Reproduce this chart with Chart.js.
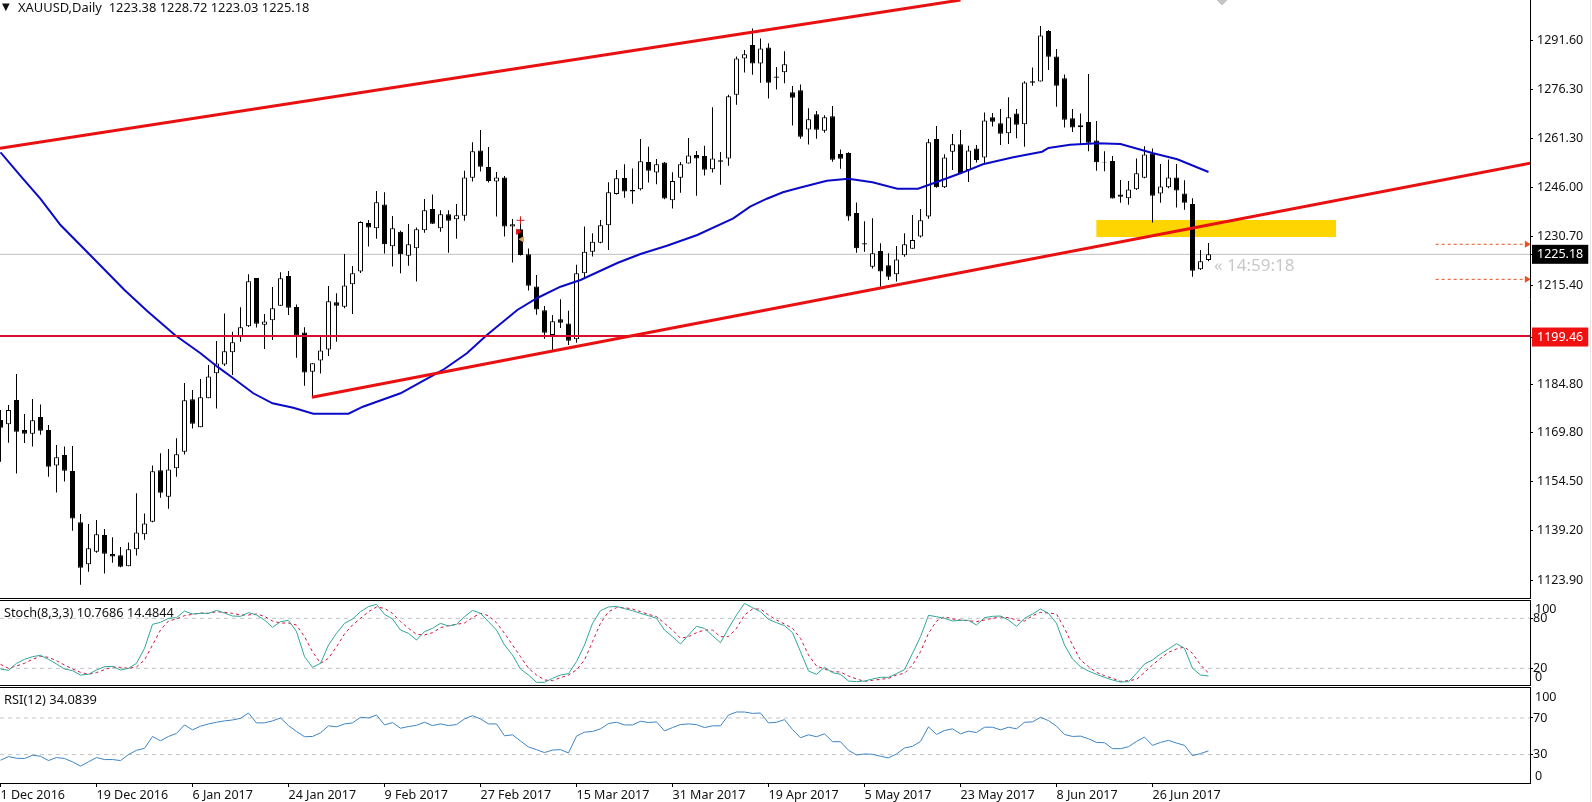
<!DOCTYPE html>
<html>
<head>
<meta charset="utf-8">
<title>XAUUSD Daily</title>
<script src="https://cdn.jsdelivr.net/npm/chart.js@4"></script>
<style>
  html, body { margin: 0; background: #fff; overflow: hidden; }
  #page { position: relative; width: 1592px; height: 802px; overflow: hidden; }
  canvas { position: absolute; left: 0; }
  .rule { position: absolute; left: 0; width: 1531px; height: 1px; background: #000; }
  .edge { position: absolute; left: 1590px; top: 0; width: 1px; height: 802px; background: #e6e6e6; }
  .txt { position: absolute; font: 12.5px "Noto Sans", sans-serif; color: #111; white-space: pre; line-height: 14px; }
</style>
</head>
<body>
<div id="page">
  <canvas id="pane-price" width="1592" height="598" style="top:0"></canvas>
  <canvas id="pane-stoch" width="1592" height="84" style="top:601px"></canvas>
  <canvas id="pane-rsi" width="1592" height="114" style="top:688px"></canvas>
  <div class="rule" style="top:598px"></div>
  <div class="rule" style="top:600px"></div>
  <div class="rule" style="top:685px"></div>
  <div class="rule" style="top:687px"></div>
  <div class="edge"></div>
</div>
<script>
// Daily candles, one entry per bar
const opens = [
  1173.65,1172.3,1179.9,1170.55,1169.4,1174.6,1170.55,1159.55,1162.8,1157.8,1141.85,1128.8,1132.7,1137.9,1132,1131.6,
  1128.15,1133.45,1138.1,1142.05,1158,1149.8,1158.65,1163.8,1180.1,1171.4,1180.4,1188.2,1190.9,1194.7,1199.4,1202.8,
  1217.8,1203.3,1204.65,1209.2,1218.4,1208.8,1200.9,1188.7,1192.2,1195.6,1210.25,1208.9,1215.85,1219.8,1234.9,1233.26,
  1240.7,1227.66,1232.2,1224.76,1227.05,1232.64,1239.3,1233.3,1237.6,1236.1,1237.2,1249,1257.5,1252.3,1247.8,1249.1,
  1233.8,1232.95,1225.2,1215.2,1207.8,1200.1,1204.97,1203.7,1198.75,1219.3,1226,1228.8,1234.2,1243.9,1248.9,1245.2,
  1245.4,1253.9,1250.6,1253.7,1242,1249,1253.4,1256.06,1255.75,1251.6,1254.4,1255,1274.8,1286.1,1290.3,1284.5,
  1289.5,1280.5,1281.8,1275.55,1276.2,1264,1268.7,1263.6,1268.1,1256.4,1256.7,1238,1228.6,1221.3,1226.2,1221.75,
  1218.95,1224.9,1226.9,1230.7,1236.9,1261,1246,1257.1,1259.4,1251.4,1258.1,1255.3,1267.8,1265.9,1262.8,1269,
  1265.6,1279,1278.9,1294.6,1286.7,1279.9,1267.5,1264.7,1266.3,1260.6,1253.9,1254.2,1243.8,1242.6,1245.4,1249,
  1256.6,1244.1,1246,1249.1,1244.1,1240.8,1220.5,1223.38
];
const highs = [
  1176.76,1178.3,1188,1175.5,1180.2,1178.5,1172.1,1165.9,1165.4,1165.6,1144.45,1141.3,1142.6,1139.8,1137.2,1134.2,
  1135.6,1150.85,1144.6,1159.55,1163.3,1164.65,1168,1185.2,1183,1186.4,1190.75,1198.2,1206.8,1201.1,1208.7,1219,
  1217.8,1206.6,1215,1219.6,1220,1209.6,1202.5,1191.3,1199.6,1215.3,1213.05,1225.3,1221.55,1235.5,1235.85,1244.87,
  1244.5,1237.1,1232.5,1234.6,1233.5,1242.4,1243.8,1238.86,1238.86,1240.8,1251.2,1260,1263.85,1258.55,1250.8,1249.5,
  1236.2,1236.06,1227,1218.75,1209.1,1206.3,1211.2,1207.6,1221.9,1233.8,1231.7,1235.85,1247.6,1251.4,1253.2,1251.9,
  1261,1258.6,1254.8,1253.9,1250.7,1253.9,1261.35,1257.3,1258.9,1270.9,1257,1274.8,1286.7,1288.7,1295.4,1292.3,
  1290.8,1283.4,1288.3,1277.5,1278,1270.6,1269.75,1268.4,1271.3,1257.8,1256.9,1241.3,1235.5,1236.4,1228.6,1225.5,
  1227.8,1231.7,1237.4,1239.3,1261,1265.1,1256.3,1262.6,1263.8,1258.9,1259.2,1269.3,1269.1,1270.4,1274,1270.4,
  1278.96,1283.3,1296.2,1294.9,1289,1281.1,1270.4,1269,1281.25,1266.6,1257.2,1255.75,1248.3,1248,1255,1258.8,
  1258.1,1253.3,1254.7,1253.3,1248.2,1242.6,1226.5,1228.72
];
const lows = [
  1160.7,1166.6,1157,1166.5,1165.4,1169.1,1156.05,1151.1,1154.5,1139.25,1122.45,1126.5,1132.4,1125.9,1129.3,1127.85,
  1128.15,1131.5,1136.45,1141.85,1149.5,1146.1,1156.05,1162.9,1171,1171.4,1180.4,1177.2,1190.45,1187.65,1198,1202.6,
  1202.4,1195.75,1198.5,1209.2,1206.3,1193,1184.3,1180.7,1188.1,1193.55,1198,1208.4,1206.6,1219.4,1227.6,1230.05,
  1225.4,1221.4,1219.3,1221.65,1216.7,1231.9,1234.6,1232.2,1225.7,1230.05,1235.65,1247.8,1250.9,1247.5,1236.9,1230.7,
  1222.6,1224.8,1213.9,1206.4,1198.96,1195.4,1202.3,1197,1197.7,1217.7,1224.5,1228.6,1226.5,1243.75,1242.8,1240.9,
  1245,1247.5,1247,1242.3,1239.4,1244.3,1253.4,1243.4,1249.7,1250.6,1246.8,1252.75,1271.7,1281.7,1281,1278.55,
  1273.6,1276.4,1278.35,1265.2,1261.1,1259.3,1261.1,1263,1254,1251.8,1235.6,1225.7,1226,1220.8,1215.1,1217.2,
  1216.7,1224.45,1226.9,1230.4,1236.25,1245.9,1245.8,1251.4,1250.15,1247.7,1253.7,1253.5,1264.9,1259.2,1259.5,1261.3,
  1258.65,1277.6,1278.9,1282.5,1271.1,1264.6,1263.2,1259.2,1257.2,1251.2,1251,1242.5,1241.2,1240.6,1245.2,1248.8,
  1235.1,1241.2,1245.7,1239.7,1239,1218.2,1220.3,1223.03
];
const closes = [
  1171.27,1176.77,1170,1169.4,1173.55,1170.3,1159.15,1162.05,1157.9,1143,1127.75,1133.75,1138.1,1132.1,1131.2,1128.05,
  1133.45,1138.7,1141.5,1157.7,1151.05,1158.3,1163,1179.8,1172.5,1180.7,1187.2,1191.2,1195,1197.8,1202.5,1216.8,
  1203.6,1204.3,1208.4,1217.7,1208.6,1199.9,1188.4,1191.3,1195.3,1210.6,1209.2,1215.5,1219.3,1235.2,1233.5,1241.35,
  1228.3,1233.26,1225.2,1228.3,1232.95,1238.86,1234.7,1237.6,1235.65,1237.3,1249.1,1257.2,1252.4,1248,1249.1,1233.8,
  1234.5,1224.97,1215.4,1208,1200.8,1204.35,1203.9,1198.3,1219.3,1226,1229.1,1234.2,1244.5,1248.8,1244.7,1244.7,
  1254.1,1251.2,1253.2,1242.5,1248,1253.2,1255.9,1255,1251.5,1255,1254,1274.3,1286.1,1287.4,1284.5,1289.2,
  1278.55,1280.1,1284.25,1273.9,1261.75,1267.15,1263.9,1267.8,1254.6,1254.9,1236.9,1227.1,1228.2,1225.5,1219.8,1218.2,
  1223.6,1228.3,1229.6,1235.75,1260,1246,1255.3,1259.4,1250.4,1257.5,1254.5,1266.8,1266.4,1262.7,1267.8,1265.5,
  1278.6,1278.55,1293.2,1286.6,1277.6,1267,1264.6,1265.3,1259.9,1253.8,1253.7,1242.5,1243.1,1245.3,1250.4,1256.2,
  1243.4,1246.3,1249.1,1245,1241.2,1220.1,1223,1225.18
];

// Moving average, read at the bars listed in maBars
const maBars = [0,2.5,5,7.5,11.2,15.5,18.3,21.8,25,27.1,29.1,31.6,34,36.6,39.1,43.5,45.3,50,55.3,58.3,60.8,64.6,67.1,70,72.5,77.1,80,83.3,87.1,91.6,93.7,95.8,97.8,100,103.3,106,109,112.1,114.7,116.6,120,122.8,126.6,130.2,131,133.7,137.1,140,144.1,147.1,151];
const maValues = [1256.9,1249.6,1242.4,1234.3,1224.97,1214.09,1207.65,1200.09,1194.4,1190.24,1186.63,1181.97,1178.86,1177.49,1175.62,1175.62,1177.8,1181.97,1189.21,1194.4,1200.09,1207.87,1211.6,1215.11,1217.2,1222.48,1225.28,1227.86,1231.19,1236.38,1239.99,1242.47,1244.46,1245.96,1248.07,1248.69,1247.57,1245.58,1245.58,1247.26,1250.37,1253.17,1255.35,1257.09,1258.24,1259.27,1259.7,1259.48,1256.59,1254.73,1250.78];

const stochMain = [
  19.2,17.6,26,30.8,34,35.6,30.8,25.2,19.2,17.2,12,12.8,18,22,22.4,18,20,26,44,72.8,75.2,80,80.8,88.8,85.2,86,86,89.6,86.4,82.8,82.4,86.8,
  84,78,69.2,76,77.6,64,34,21.2,26,48,62,74,79.2,88,94,96.8,84.8,79.2,66,62,54,64,68,74,70.8,72.8,82,89.6,86,76,66,48,36,
  19.2,12,3.2,3.2,8,12,13.6,28,48,74,89.2,93.6,94.4,91.6,89.2,86,83.2,80,66,58,49.2,60,70.4,68,59.2,50.8,68,84,98,92.8,88,78.8,74.8,71.2,62.8,
  40,16.8,12.8,21.2,14.8,12.8,4.8,4,4.8,7.2,9.2,9.2,13.6,18.4,38,58,83.6,82,80,76.8,77.6,77.6,72,80.8,82.4,82.8,78,70.4,80,85.2,
  91.2,86,74,48,31.2,22,16.8,12.8,9.2,6,3.6,4,14,25.2,30,37.2,43.2,49.6,44,20,12,10.77
];
const stochSignal = [
  24.8,20,22.8,26,30.8,34.4,33.2,29.2,24,19.2,15.2,12.8,14.8,18.4,21.6,21.2,20,21.6,30,48,66,76.8,79.2,83.2,84.8,86.4,86,88,87.2,86,84,84,
  85.2,82.4,76.8,74.4,74.4,72,58,40,26,32,46,61.2,72,80,88,93.6,92,86,76,68,60.8,60,62.8,68.8,71.2,72.8,74.4,80.8,86,83.2,74.8,62,48,
  34,20,12,6,5.2,8.8,12,18,30,52,74,88,92.8,92.8,91.2,88,84.8,82,74,66,56,58,62.8,66,66,58,58,68,84,91.2,91.2,84,78,73.2,68,
  56,36,22.8,19.2,16,15.6,10.8,7.2,4.4,5.6,6.8,8,12,14,24,40,62,76.8,82,79.2,78,77.2,76,78,80,81.6,80.8,78,76.8,83.2,
  87.2,86.4,85.2,68,48,30,22,15.2,11.2,8,4.4,5.2,6.8,15.2,24,32,39.2,43.2,45.6,38,24,14.48
];
const rsiValues = [
  23.9,27.8,26,25.7,29.3,28.2,23.5,26.8,25.7,22.1,17.4,22.1,26.8,24.6,24.6,23.5,30,34.7,36.8,49.8,45.1,49.8,53.1,62.4,57,61,63.5,65.3,66.8,67.8,69.6,75.4,
  64.6,64.6,66.8,70,61.7,55.2,49.5,49.8,53.8,61.4,60.3,63.5,64.6,70.7,70,73.2,62.4,65,58.8,60.6,62,65.3,61.7,63.5,61.7,62.8,68.9,72.5,68.9,63.5,63.5,50.5,51.6,
  44.8,38.3,35.4,32.2,35,35.4,31.8,50.2,54.5,55.2,58.1,63.9,65.3,62.4,62.4,66.4,65,65.7,55.9,59.5,62.8,63.5,62.8,59.5,61.4,61.4,73.2,76.5,76.5,75,75.4,64.6,65.3,68.2,57.4,
  48.4,51.6,49.5,52.7,44.1,44.1,34.7,29.6,30.7,30.4,28.2,26.4,30.7,37.2,39,44.4,60.3,52,56.3,58.1,52.7,55.6,54.1,59.9,59.9,57,59.9,58.1,65.3,65.7,
  70.7,67.1,61,52,49.8,50.2,47.3,43.3,43,36.5,36.5,38.6,44.4,49.1,40.1,43.3,45.5,42.6,40.1,28.9,31.1,34.08
];

const dateLabels = ['1 Dec 2016','19 Dec 2016','6 Jan 2017','24 Jan 2017','9 Feb 2017','27 Feb 2017','15 Mar 2017','31 Mar 2017','19 Apr 2017','5 May 2017','23 May 2017','8 Jun 2017','26 Jun 2017'];
const priceTicks = [1291.6,1276.3,1261.3,1246,1230.7,1225.18,1215.4,1199.46,1184.8,1169.8,1154.5,1139.2,1123.9];
const stochLevels = [80,20];
const rsiLevels = [70,30];

// Objects drawn on the chart: [bar, price] pairs and levels
const lastPrice = 1225.18;
const supportPrice = 1199.46;
const supportLine = 1199.75;
const upperTrend = [[-0.0625,1258.14],[120,1304.26]];
const lowerTrend = [[38.93,1180.72],[191.2,1253.48]];
const zoneBars = [136.96,166.96];
const zonePrices = [1235.85,1230.56];
const targetPrices = [1228.3,1217.4];
const targetBars = [179.4,190.8];

// x scale: one bar every 8 px, plot ends at px 1530
const xMin = -0.0625;
const xMax = 191.1875;
const FONT = { family: '"Noto Sans", sans-serif', size: 12.5 };
const bars = opens.map((_, i) => i);

Chart.defaults.animation = false;
Chart.defaults.responsive = false;
Chart.defaults.plugins.legend.display = false;
Chart.defaults.plugins.tooltip.enabled = false;
Chart.defaults.font = FONT;
Chart.defaults.color = '#111';

function toPoints(pairs) {
  return pairs.map(p => ({ x: p[0], y: p[1] }));
}

function lineSet(data, color, width, order, extra) {
  return Object.assign({ type: 'line', data: data, borderColor: color, borderWidth: width, pointRadius: 0, fill: false, tension: 0, order: order }, extra || {});
}

function marker(x, y, style, radius, color, rotation) {
  return lineSet([{ x: x, y: y }], color, 1, 1, {
    showLine: false, pointStyle: style, pointRadius: radius, pointRotation: rotation || 0,
    pointBackgroundColor: color, pointBorderColor: color, pointBorderWidth: 1
  });
}

function xScale() {
  return { type: 'linear', display: false, min: xMin, max: xMax, offset: false, grid: { offset: false } };
}

function yScale(min, max, ticks, padding, extraTicks) {
  return {
    position: 'right', min: min, max: max,
    // keep the plot flush with the pane, labels may overhang
    afterFit: s => { s.width = 62; s.paddingTop = 0; s.paddingBottom = 0; },
    afterBuildTicks: s => { s.ticks = ticks.map(v => ({ value: v })); },
    grid: { drawOnChartArea: false, drawTicks: true, tickLength: 3, color: '#000' },
    border: { color: '#000', width: 1 },
    ticks: Object.assign({ autoSkip: false, padding: padding, font: FONT }, extraTicks || {})
  };
}

// Main pane
const isTag = v => v === lastPrice || v === supportPrice;
new Chart(document.getElementById('pane-price'), {
  type: 'bar',
  data: {
    datasets: [
      lineSet([{ x: zoneBars[0], y: zonePrices[0] }, { x: zoneBars[1], y: zonePrices[0] }], '#FFD500', 0, 10, { fill: { value: zonePrices[1] }, backgroundColor: '#FFD500' }),
      lineSet([{ x: xMin, y: lastPrice }, { x: xMax, y: lastPrice }], '#c0c0c0', 1, 9),
      {
        data: bars.map(i => ({ x: i, y: [lows[i], highs[i]] })),
        backgroundColor: '#000', barThickness: 1, grouped: false, inflateAmount: 0, order: 6
      },
      {
        data: bars.map(i => ({ x: i, y: [Math.min(opens[i], closes[i]), Math.max(opens[i], closes[i])] })),
        backgroundColor: bars.map(i => closes[i] >= opens[i] ? '#fff' : '#000'),
        borderColor: '#000', borderWidth: 1, borderSkipped: false, barThickness: 5, grouped: false, inflateAmount: 0, order: 5
      },
      lineSet(maBars.map((b, k) => ({ x: b, y: maValues[k] })), '#0a0ac8', 2, 4),
      lineSet([{ x: xMin, y: supportLine }, { x: xMax, y: supportLine }], '#d8102c', 2, 3),
      lineSet(toPoints(upperTrend), '#e81010', 3, 2),
      lineSet(toPoints(lowerTrend), '#e81010', 3, 2),
      lineSet([{ x: targetBars[0], y: targetPrices[0] }, { x: targetBars[1], y: targetPrices[0] }], '#e8501e', 1, 1, { borderDash: [3, 3], pointStyle: 'triangle', pointRotation: 90, pointRadius: [0, 4], pointBackgroundColor: '#e8501e', pointBorderWidth: 0 }),
      lineSet([{ x: targetBars[0], y: targetPrices[1] }, { x: targetBars[1], y: targetPrices[1] }], '#e8501e', 1, 1, { borderDash: [3, 3], pointStyle: 'triangle', pointRotation: 90, pointRadius: [0, 4], pointBackgroundColor: '#e8501e', pointBorderWidth: 0 }),
      marker(65, 1235.76, 'cross', 4, '#c82020'),
      marker(64.7, 1232.2, 'triangle', 3, '#e01010', 90),
      marker(65.2, 1229.85, 'triangle', 3, '#d8a060', -90),
      marker(152.7, 1304.26, 'rectRot', 5, '#c4c4c4')
    ]
  },
  options: {
    layout: { padding: 0, autoPadding: false },
    scales: {
      x: xScale(),
      y: yScale(1118.31, 1304.26, priceTicks, 4, {
        callback: v => v.toFixed(2),
        color: c => isTag(c.tick.value) ? '#fff' : '#111',
        showLabelBackdrop: c => isTag(c.tick.value),
        backdropColor: c => c.tick.value === lastPrice ? '#000' : '#f01010',
        backdropPadding: { x: 5, y: 2 }
      })
    }
  }
});

function levelSets(levels) {
  return levels.map(v => lineSet([{ x: xMin, y: v }, { x: xMax, y: v }], '#c4c4c4', 1, 9, { borderDash: [4, 4] }));
}

// Stochastic pane
new Chart(document.getElementById('pane-stoch'), {
  type: 'line',
  data: {
    datasets: levelSets(stochLevels).concat([
      lineSet(bars.map(i => ({ x: i, y: stochSignal[i] })), '#d0143c', 1, 2, { borderDash: [3, 3] }),
      lineSet(bars.map(i => ({ x: i, y: stochMain[i] })), '#2ea79b', 1, 1)
    ])
  },
  options: {
    layout: { padding: 0, autoPadding: false },
    scales: {
      x: xScale(),
      y: yScale(0, 100.8, stochLevels, 0)
    }
  }
});

// RSI pane, carries the date axis
new Chart(document.getElementById('pane-rsi'), {
  type: 'line',
  data: {
    datasets: levelSets(rsiLevels).concat([
      lineSet(bars.map(i => ({ x: i, y: rsiValues[i] })), '#3d85c6', 1, 1)
    ])
  },
  options: {
    layout: { padding: 0, autoPadding: false },
    scales: {
      x: {
        type: 'linear', min: xMin, max: xMax,
        afterFit: s => { s.height = 19; s.paddingLeft = 0; s.paddingRight = 0; },
        afterBuildTicks: s => { s.ticks = dateLabels.map((_, k) => ({ value: k * 12 })); },
        grid: { drawOnChartArea: false, drawTicks: true, tickLength: 4, color: '#000' },
        border: { color: '#000', width: 1 },
        ticks: { autoSkip: false, maxRotation: 0, align: 'start', padding: 1, font: FONT, callback: v => dateLabels[v / 12] }
      },
      y: yScale(-1, 102.7, rsiLevels, 0)
    }
  }
});

// Text that is not on a scale
function addText(text, left, middle, css) {
  const el = document.createElement('div');
  el.className = 'txt';
  el.textContent = text;
  el.style.left = left + 'px';
  el.style.top = (middle - 7) + 'px';
  if (css) Object.assign(el.style, css);
  document.getElementById('page').appendChild(el);
}

addText('▼', 2, 7, { fontFamily: '"DejaVu Sans"', fontSize: '10px' });
addText('XAUUSD,Daily  1223.38 1228.72 1223.03 1225.18', 18, 7, { fontSize: '12.9px' });
addText('Stoch(8,3,3) 10.7686 14.4844', 4, 612, { fontSize: '12.7px' });
addText('RSI(12) 34.0839', 4, 699, { fontSize: '12.9px' });
addText('« 14:59:18', 1214, 265, { color: '#c8c8c8', fontSize: '17px' });
addText('100', 1535, 609);
addText('0', 1535, 677);
addText('100', 1535, 697);
addText('0', 1535, 776);
</script>
</body>
</html>
